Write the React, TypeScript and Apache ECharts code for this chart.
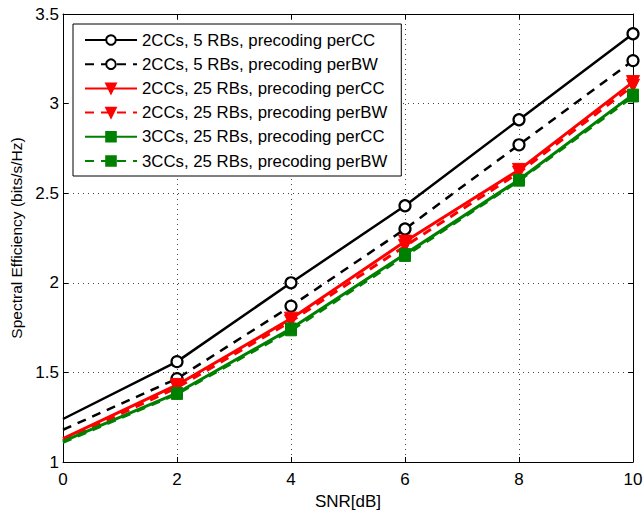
import React, { useEffect, useRef } from "react";
import * as echarts from "echarts";

// SNR points (dB)
const snr = [0, 2, 4, 6, 8, 10];

// Spectral efficiency (bits/s/Hz) per configuration
const cc2rb5PerCC = [1.24, 1.56, 2.0, 2.43, 2.91, 3.39];
const cc2rb5PerBW = [1.18, 1.465, 1.87, 2.3, 2.77, 3.24];
const cc2rb25PerCC = [1.13, 1.43, 1.8, 2.23, 2.63, 3.12];
const cc2rb25PerBW = [1.12, 1.415, 1.785, 2.205, 2.615, 3.1];
const cc3rb25PerCC = [1.115, 1.385, 1.745, 2.16, 2.575, 3.05];
const cc3rb25PerBW = [1.11, 1.38, 1.735, 2.15, 2.57, 3.04];

const seriesNames = [
  "2CCs, 5 RBs, precoding perCC",
  "2CCs, 5 RBs, precoding perBW",
  "2CCs, 25 RBs, precoding perCC",
  "2CCs, 25 RBs, precoding perBW",
  "3CCs, 25 RBs, precoding perCC",
  "3CCs, 25 RBs, precoding perBW",
];

const FONT = "'Liberation Sans', Arial, sans-serif";

// First point sits on the y axis and carries no marker
function pairs(ys: number[]) {
  return snr.map((x, i) =>
    i === 0 ? { value: [x, ys[i]], symbol: "none" } : { value: [x, ys[i]] }
  );
}

export default function App() {
  const ref = useRef<HTMLDivElement>(null);

  useEffect(() => {
    if (!ref.current) return;
    const chart = echarts.init(ref.current, null, { renderer: "svg" });

    const dash = [9, 7];
    const mk = (
      name: string,
      ys: number[],
      color: string,
      dashed: boolean,
      symbol: string,
      filled: boolean,
      size: number,
      rotate = 0,
      width = 2.5
    ) => ({
      name,
      type: "line",
      data: pairs(ys),
      symbol,
      symbolSize: size,
      symbolRotate: rotate,
      showAllSymbol: true,
      lineStyle: { color, width, type: dashed ? dash : "solid" },
      itemStyle: {
        color: filled ? color : "#fff",
        borderColor: color,
        borderWidth: filled ? 1 : 2.2,
      },
      z: 3,
    });

    const gridLine = { show: true, lineStyle: { type: [1, 4], color: "#444", width: 1 } };
    const frameLine = { show: true, onZero: false, lineStyle: { color: "#000", width: 1 } };
    const innerTick = { inside: true, length: 5, lineStyle: { color: "#000" } };

    chart.setOption({
      animation: false,
      backgroundColor: "#fff",
      textStyle: { fontFamily: FONT },
      grid: {
        left: 63,
        right: 10,
        top: 14,
        bottom: 49,
        containLabel: false,
        outerBoundsMode: "none",
      },
      legend: {
        left: 73,
        top: 24,
        orient: "vertical",
        backgroundColor: "#fff",
        borderColor: "#000",
        borderWidth: 1,
        padding: [7, 14, 6, 11],
        itemWidth: 52,
        itemHeight: 12,
        itemGap: 6.2,
        textStyle: { fontSize: 16.8, lineHeight: 18, color: "#000", fontFamily: FONT },
        data: seriesNames,
      },
      xAxis: [
        {
          type: "value",
          min: 0,
          max: 10,
          interval: 2,
          name: "SNR[dB]",
          nameLocation: "middle",
          nameGap: 27,
          nameTextStyle: { fontSize: 17, color: "#000" },
          axisLine: frameLine,
          axisTick: innerTick,
          axisLabel: { fontSize: 17, color: "#000", margin: 9 },
          splitLine: gridLine,
        },
        {
          type: "value",
          position: "top",
          min: 0,
          max: 10,
          interval: 2,
          axisLine: frameLine,
          axisTick: innerTick,
          axisLabel: { show: false },
          splitLine: { show: false },
        },
      ],
      yAxis: [
        {
          type: "value",
          min: 1,
          max: 3.5,
          interval: 0.5,
          name: "Spectral Efficiency (bits/s/Hz)",
          nameLocation: "middle",
          nameGap: 37,
          nameTextStyle: { fontSize: 15.5, color: "#000" },
          axisLine: frameLine,
          axisTick: innerTick,
          axisLabel: { fontSize: 17, color: "#000", margin: 4 },
          splitLine: gridLine,
        },
        {
          type: "value",
          position: "right",
          min: 1,
          max: 3.5,
          interval: 0.5,
          axisLine: frameLine,
          axisTick: innerTick,
          axisLabel: { show: false },
          splitLine: { show: false },
        },
      ],
      series: [
        mk(seriesNames[0], cc2rb5PerCC, "#000", false, "circle", false, 11),
        mk(seriesNames[1], cc2rb5PerBW, "#000", true, "circle", false, 11),
        mk(seriesNames[2], cc2rb25PerCC, "#ff0000", false, "triangle", true, 13, 180, 3),
        mk(seriesNames[3], cc2rb25PerBW, "#ff0000", true, "triangle", true, 13, 180, 3),
        mk(seriesNames[4], cc3rb25PerCC, "#008000", false, "rect", true, 11, 0, 3),
        mk(seriesNames[5], cc3rb25PerBW, "#008000", true, "rect", true, 11, 0, 3),
      ],
    });

    return () => chart.dispose();
  }, []);

  return (
    <div
      ref={ref}
      style={{ position: "fixed", left: 0, top: 0, width: 643, height: 511, background: "#fff" }}
    />
  );
}
